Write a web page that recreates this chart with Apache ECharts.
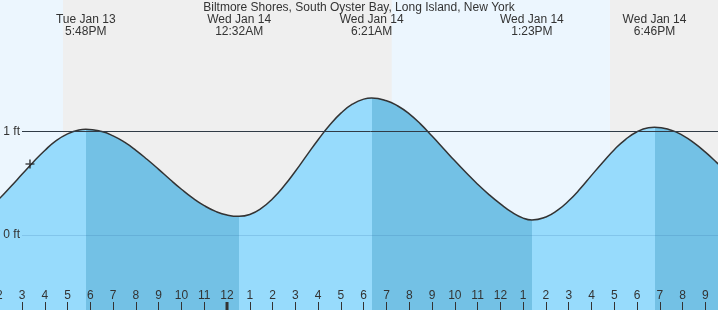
<!DOCTYPE html>
<html>
<head>
<meta charset="utf-8">
<style>
html,body{margin:0;padding:0;background:#ECF6FE;}
#chart{width:718px;height:310px;}
</style>
<script src="https://cdn.jsdelivr.net/npm/echarts@6/dist/echarts.min.js"></script>
</head>
<body>
<div id="chart"></div>
<script>
// Hours counted from Tue Jan 13 00:00
const tideTimes = [13, 13.5, 14, 14.5, 15, 15.5, 16, 16.5, 17, 17.5, 17.8, 18.5, 19, 19.5, 20, 20.5, 21, 21.5, 22, 22.5, 23, 23.5, 24, 24.533, 25, 25.5, 26, 26.5, 27, 27.5, 28, 28.5, 29, 29.5, 30, 30.35, 31, 31.5, 32, 32.5, 33, 33.5, 34, 34.5, 35, 35.5, 36, 36.5, 37, 37.383, 38, 38.5, 39, 39.5, 40, 40.5, 41, 41.5, 42, 42.5, 42.767, 43.5, 44, 44.5, 45, 45.5, 46];
const tideHeights = [0.19, 0.26, 0.35, 0.465, 0.585, 0.705, 0.815, 0.91, 0.975, 1.013, 1.02, 0.998, 0.956, 0.895, 0.817, 0.728, 0.633, 0.535, 0.441, 0.355, 0.283, 0.228, 0.193, 0.18, 0.198, 0.256, 0.35, 0.472, 0.615, 0.768, 0.919, 1.058, 1.175, 1.261, 1.31, 1.32, 1.295, 1.244, 1.168, 1.069, 0.954, 0.835, 0.715, 0.60, 0.49, 0.39, 0.30, 0.22, 0.163, 0.145, 0.174, 0.237, 0.33, 0.445, 0.575, 0.702, 0.823, 0.923, 0.996, 1.035, 1.04, 1.011, 0.961, 0.888, 0.799, 0.698, 0.592];

const extremeTimes = [17.8, 24.533, 30.35, 37.383, 42.767];
const extremeHeights = [1.02, 0.18, 1.32, 0.145, 1.04];
const extremeTypes = ['H', 'L', 'H', 'L', 'H'];
const extremeDates = ['Tue Jan 13', 'Wed Jan 14', 'Wed Jan 14', 'Wed Jan 14', 'Wed Jan 14'];
const extremeClock = ['5:48PM', '12:32AM', '6:21AM', '1:23PM', '6:46PM'];

const nightStarts = [16.80, 40.81];
const nightEnds = [31.23, 46];
const dayBoundaries = [24];
const nowTime = 15.35;
const nowHeight = 0.685;
const refLevels = [1, 0];
const refLabels = ['1 ft', '0 ft'];

const titleText = 'Biltmore Shores, South Oyster Bay, Long Island, New York';

const FONT = 'Liberation Sans, Arial, sans-serif';
const LIGHT = '#97DBFC';
const DARK = '#73C1E5';

const tideData = tideTimes.map((t, i) => [t, tideHeights[i]]);

const pieces = [];
pieces.push({ lt: extremeTimes[0], color: extremeTypes[0] === 'H' ? LIGHT : DARK });
for (let i = 0; i < extremeTimes.length; i++) {
  const p = { gte: extremeTimes[i], color: extremeTypes[i] === 'H' ? DARK : LIGHT };
  if (i + 1 < extremeTimes.length) p.lt = extremeTimes[i + 1];
  pieces.push(p);
}

const chart = echarts.init(document.getElementById('chart'));
const option = {
  animation: false,
  backgroundColor: '#ECF6FE',
  textStyle: { fontFamily: FONT },
  title: {
    text: titleText,
    left: 'center',
    top: 1,
    padding: 0,
    textStyle: { fontSize: 12, fontWeight: 'normal', color: '#333', fontFamily: FONT, lineHeight: 13 }
  },
  grid: { left: -0.78, right: -10.18, top: 0, bottom: 0, outerBoundsMode: 'none', containLabel: false },
  xAxis: {
    type: 'value',
    z: 10,
    min: 14,
    max: 46,
    interval: 1,
    position: 'bottom',
    axisLine: { show: false, onZero: false },
    splitLine: { show: false },
    axisTick: { show: true, inside: true, length: 8, lineStyle: { color: '#333', width: 1 } },
    axisLabel: {
      show: true, inside: true, margin: 8, color: '#333', fontSize: 12, fontFamily: FONT,
      showMinLabel: true, showMaxLabel: false, hideOverlap: false,
      formatter: v => { const h = Math.round(v) % 12; return String(h === 0 ? 12 : h); }
    }
  },
  yAxis: { type: 'value', min: -0.723, max: 2.266, show: false },
  visualMap: {
    type: 'piecewise', show: false, dimension: 0, seriesIndex: 1, pieces: pieces
  },
  series: [
    {
      // background: night shading and 1 ft reference line
      type: 'line', z: 0, data: [], silent: true,
      markArea: {
        silent: true,
        itemStyle: { color: '#EFEFEF' },
        data: nightStarts.map((s, i) => [{ xAxis: s }, { xAxis: nightEnds[i] }])
      },
      markLine: {
        silent: true, symbol: 'none',
        lineStyle: { color: '#333', width: 1, type: 'solid' },
        label: { show: true, position: 'start', distance: 2, color: '#333', fontSize: 12, fontFamily: FONT, formatter: refLabels[0] },
        data: [[{ coord: [15, refLevels[0]] }, { coord: [46, refLevels[0]] }]]
      }
    },
    {
      // water fill
      type: 'line', z: 1, data: tideData, smooth: true, showSymbol: false, silent: true,
      lineStyle: { width: 0 },
      areaStyle: { opacity: 1, origin: 'start' }
    },
    {
      // tide curve stroke + faint level lines over the water
      type: 'line', z: 2, data: tideData, smooth: true, showSymbol: false, silent: true,
      itemStyle: { color: '#333' },
      lineStyle: { color: '#333', width: 1.5 },
      markLine: {
        silent: true, symbol: 'none',
        lineStyle: { color: 'rgba(40,100,160,0.18)', width: 1, type: 'solid' },
        data: refLevels.map((lv, i) => [
          { coord: [15, lv], label: { show: i === 1, position: 'start', distance: 2, color: '#333', fontSize: 12, fontFamily: FONT, formatter: refLabels[i] } },
          { coord: [46, lv] }
        ])
      }
    },
    {
      // current time marker
      type: 'scatter', z: 3, silent: true,
      data: [[nowTime, nowHeight]],
      symbol: 'path://M5,0L5,10M0,5L10,5',
      symbolSize: 9,
      itemStyle: { color: 'none', borderColor: '#222', borderWidth: 1.6 }
    },
    {
      // high/low time labels along the top
      type: 'custom', z: 3, silent: true, clip: false,
      data: extremeTimes.map((t, i) => [t, extremeHeights[i], i]),
      renderItem: (params, api) => {
        const i = api.value(2);
        const x = api.coord([api.value(0), 0])[0];
        return {
          type: 'text', x: x, y: 14,
          style: {
            text: extremeDates[i] + '\n' + extremeClock[i],
            align: 'center', verticalAlign: 'top',
            fontSize: 12, fontFamily: FONT, fill: '#333', lineHeight: 12
          }
        };
      }
    },
    {
      // date boundary tick
      type: 'custom', z: 11, silent: true, clip: false,
      data: dayBoundaries.map(t => [t, -0.723]),
      renderItem: (params, api) => {
        const p = api.coord([api.value(0), api.value(1)]);
        return { type: 'rect', shape: { x: p[0] - 1.5, y: p[1] - 8, width: 3, height: 8 }, style: { fill: '#333' } };
      }
    }
  ]
};
chart.setOption(option);
</script>
</body>
</html>
